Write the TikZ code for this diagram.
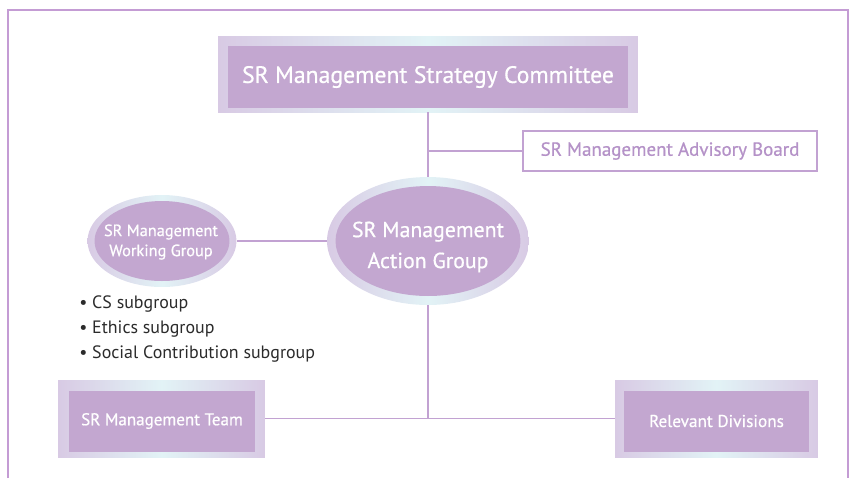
\documentclass[tikz,border=0pt]{standalone}
\usepackage{fontspec}
\setmainfont{PT Sans}
\newfontfamily\boxfont[FakeBold=0.6]{PT Sans}
\usetikzlibrary{shapes.geometric}

\definecolor{lilac}{HTML}{C3A7D0}
\definecolor{lilacpale}{HTML}{D8CAE4}
\definecolor{icecyan}{HTML}{E2F3F6}
\definecolor{lineviolet}{HTML}{C2A2D2}
\definecolor{frameviolet}{HTML}{C49CD4}
\definecolor{advtext}{HTML}{B592C8}
\definecolor{bullettext}{HTML}{2B2B2B}

\tikzset{
  halo/.style={left color=lilacpale, right color=lilacpale, middle color=icecyan, draw=none, inner sep=0pt},
  core/.style={fill=lilac, draw=none, text=white, inner sep=0pt, align=center},
  label text/.style={text=white, inner sep=0pt, align=center},
  link/.style={draw=lineviolet, line width=1.1pt}
}

\begin{document}
\begin{tikzpicture}[x=0.02cm,y=-0.02cm]
\useasboundingbox (0,0) rectangle (854,478);

%% frame
  \draw[frameviolet, line width=1.1pt] (8,478) -- (8,10) -- (848,10) -- (848,478);

%% boxes
  \node[halo, minimum width=8.4cm, minimum height=1.52cm] (stratout) at (428,74) {};
  \node[core, minimum width=8cm, minimum height=1.24cm, font=\boxfont\fontsize{13.5}{16}\selectfont] (strat) at (428,77) {SR Management Strategy Committee};

  \node[draw=lineviolet, line width=1.1pt, fill=white, text=advtext, minimum width=5.88cm, minimum height=0.8cm, inner sep=0pt, font=\boxfont\fontsize{10.8}{13}\selectfont] (adv) at (670,151) {SR Management Advisory Board};

%% ellipses
  \node[halo, ellipse, minimum width=4.04cm, minimum height=2.56cm] (actout) at (428,241) {};
  \node[core, ellipse, minimum width=3.7cm, minimum height=2.2cm] (act) at (428,241) {};
  \node[label text, font=\boxfont\fontsize{12.4}{17.6}\selectfont] (acttext) at (428,247) {SR Management\\Action Group};

  \node[halo, ellipse, minimum width=2.98cm, minimum height=1.84cm] (workout) at (162,241) {};
  \node[core, ellipse, minimum width=2.7cm, minimum height=1.6cm] (work) at (162,241) {};
  \node[label text, font=\boxfont\fontsize{9.3}{11.4}\selectfont] (worktext) at (161,242) {SR Management\\Working Group};

  \node[halo, minimum width=4.14cm, minimum height=1.54cm] (teamout) at (161.5,418.5) {};
  \node[core, minimum width=3.72cm, minimum height=1.22cm, font=\boxfont\fontsize{9.7}{12}\selectfont] (team) at (162,421) {SR Management Team};

  \node[halo, minimum width=4.06cm, minimum height=1.54cm] (relout) at (716.5,418.5) {};
  \node[core, minimum width=3.7cm, minimum height=1.22cm, font=\boxfont\fontsize{9.8}{12}\selectfont] (rel) at (716.5,421) {Relevant Divisions};

%% subgroups
  \node[anchor=north west, align=left, text=bullettext, inner sep=0pt, font=\fontsize{10.2}{14.2}\selectfont] (subs) at (79,295) {• CS subgroup\\• Ethics subgroup\\• Social Contribution subgroup};

%% links
  \draw[link] (stratout.south) -- (actout.north);
  \draw[link] (adv.west -| stratout.south) -- (adv.west);
  \draw[link] (workout.east) -- (actout.west);
  \draw[link] (actout.south) -- (actout.south |- teamout.east);
  \draw[link] (teamout.east) -- (relout.west);
\end{tikzpicture}
\end{document}
